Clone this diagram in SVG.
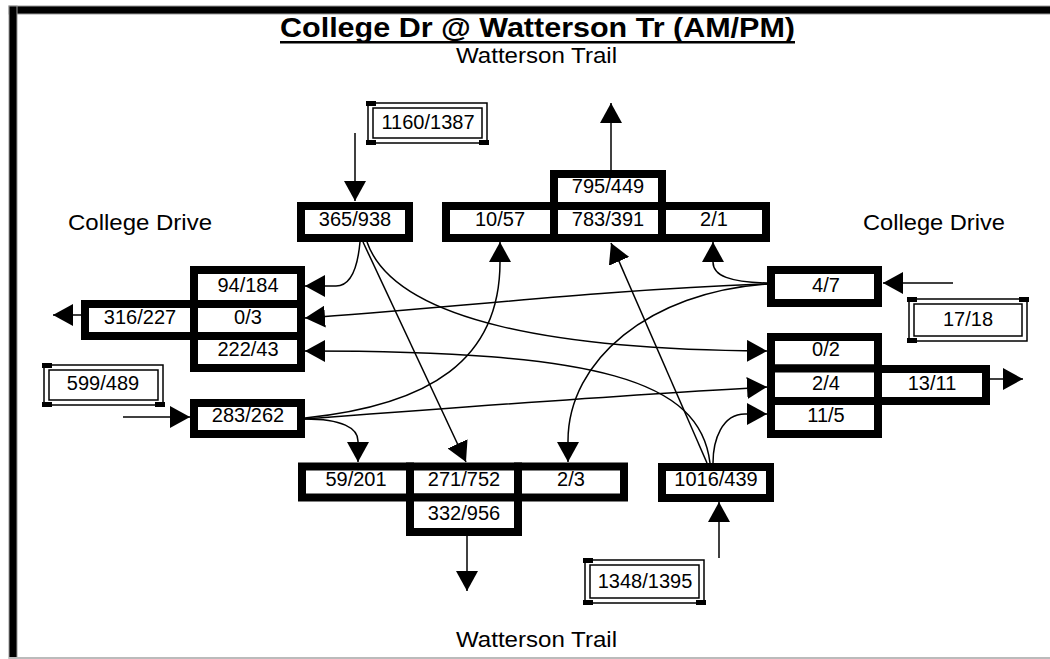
<svg xmlns="http://www.w3.org/2000/svg" width="1050" height="659" viewBox="0 0 1050 659">
  <style>
    text { font-family: "Liberation Sans", Arial, sans-serif; fill: #000; }
    .num { font-size: 20px; text-anchor: middle; }
    .lbl { font-size: 22px; text-anchor: middle; }
    .cell { fill: #fff; stroke: #000; stroke-width: 8; }
    .thin { fill: #fff; stroke: #000; stroke-width: 1.5; }
    .thin2 { fill: none; stroke: #000; stroke-width: 1.5; }
    .corner { fill: #000; }
    .wire { fill: none; stroke: #000; stroke-width: 1.5; marker-end: url(#ah); }
  </style>
  <defs>
    <marker id="ah" viewBox="0 0 20 22" refX="20" refY="11" markerWidth="20" markerHeight="22" markerUnits="userSpaceOnUse" orient="auto">
      <path d="M0,0 L20,11 L0,22 z" fill="#000"/>
    </marker>
  </defs>

  <rect width="1050" height="659" fill="#fff"/>

  <!-- page frame -->
  <g id="frame">
    <rect x="9" y="6" width="1045" height="8" fill="#000" stroke="#999" stroke-width="1"/>
    <rect x="9" y="6" width="8" height="660" fill="#000" stroke="#999" stroke-width="1"/>
    <line x1="9" y1="658" x2="1050" y2="658" stroke="#bbb" stroke-width="2"/>
  </g>

  <!-- headings -->
  <g id="title">
    <text x="537.5" y="37" font-size="27" font-weight="bold" text-anchor="middle" textLength="515" lengthAdjust="spacingAndGlyphs">College Dr @ Watterson Tr (AM/PM)</text>
    <rect x="280" y="41" width="515" height="2.5" fill="#000"/>
  </g>
  <text class="lbl" x="536.5" y="63" textLength="161" lengthAdjust="spacingAndGlyphs">Watterson Trail</text>
  <text class="lbl" x="536.5" y="647" textLength="161" lengthAdjust="spacingAndGlyphs">Watterson Trail</text>
  <text class="lbl" x="140" y="230" textLength="144" lengthAdjust="spacingAndGlyphs">College Drive</text>
  <text class="lbl" x="934" y="230" textLength="142" lengthAdjust="spacingAndGlyphs">College Drive</text>

  <!-- connectors -->
  <g id="connectors">
    <!-- approach / departure legs -->
    <path class="wire" d="M355 133 L355 201"/>
    <path class="wire" d="M611 170 L611 103"/>
    <path class="wire" d="M81 315 L53 315"/>
    <path class="wire" d="M123 417 L190 417"/>
    <path class="wire" d="M990 379 L1023 379"/>
    <path class="wire" d="M953 283 L883 283"/>
    <path class="wire" d="M467 536 L467 591"/>
    <path class="wire" d="M719 558 L719 502"/>

    <!-- southbound movements -->
    <path class="wire" d="M360 242 C 358 264, 352 286, 336 286 L305 286"/>
    <path class="wire" d="M363 242 L466 462"/>
    <path class="wire" d="M367 242 C 395 322, 560 350, 767 351"/>

    <!-- westbound movements -->
    <path class="wire" d="M767 283 C 730 282, 713 276, 713 262 L713 242"/>
    <path class="wire" d="M767 284 C 600 290, 450 308, 305 318"/>
    <path class="wire" d="M767 284 C 650 292, 568 360, 568 441 L568 462"/>

    <!-- eastbound movements -->
    <path class="wire" d="M305 418 C 430 405, 500 360, 500 262 L500 242"/>
    <path class="wire" d="M305 419 C 450 408, 620 395, 767 387"/>
    <path class="wire" d="M305 419 C 342 419, 358 428, 358 441 L358 462"/>

    <!-- northbound movements -->
    <path class="wire" d="M707 463 L611 243"/>
    <path class="wire" d="M710 463 C 700 380, 600 351, 305 351"/>
    <path class="wire" d="M713 463 C 713 440, 722 414, 745 414 L767 414"/>
  </g>

  <!-- north leg -->
  <g id="sb-approach">
    <rect class="thin" x="368" y="103" width="119" height="40"/>
    <rect class="thin2" x="373" y="108" width="109" height="30"/>
    <rect class="corner" x="366" y="101" width="10" height="5"/>
    <rect class="corner" x="366" y="140" width="10" height="5"/>
    <rect class="corner" x="479" y="140" width="10" height="5"/>
    <text class="num" x="428" y="129">1160/1387</text>
  </g>
  <g id="sb-in">
    <rect class="cell" x="301" y="206" width="108" height="32"/>
    <text class="num" x="355" y="226">365/938</text>
  </g>
  <g id="nb-out">
    <rect class="cell" x="554" y="174" width="108" height="32"/>
    <rect class="cell" x="446" y="206" width="108" height="32"/>
    <rect class="cell" x="554" y="206" width="108" height="32"/>
    <rect class="cell" x="662" y="206" width="104" height="32"/>
    <text class="num" x="608" y="193">795/449</text>
    <text class="num" x="500" y="226">10/57</text>
    <text class="num" x="608" y="226">783/391</text>
    <text class="num" x="714" y="226">2/1</text>
  </g>

  <!-- west leg -->
  <g id="wb-out">
    <rect class="cell" x="85" y="304" width="109" height="32"/>
    <rect class="cell" x="194" y="270" width="107" height="34"/>
    <rect class="cell" x="194" y="304" width="107" height="32"/>
    <rect class="cell" x="194" y="336" width="107" height="32"/>
    <text class="num" x="140" y="324">316/227</text>
    <text class="num" x="248" y="292">94/184</text>
    <text class="num" x="248" y="324">0/3</text>
    <text class="num" x="248" y="356">222/43</text>
  </g>
  <g id="eb-approach">
    <rect class="thin" x="44" y="365" width="119" height="40"/>
    <rect class="thin2" x="49" y="370" width="109" height="30"/>
    <rect class="corner" x="42" y="363" width="10" height="5"/>
    <rect class="corner" x="42" y="402" width="10" height="5"/>
    <rect class="corner" x="155" y="402" width="10" height="5"/>
    <text class="num" x="103" y="390">599/489</text>
  </g>
  <g id="eb-in">
    <rect class="cell" x="194" y="403" width="107" height="31"/>
    <text class="num" x="248" y="422">283/262</text>
  </g>

  <!-- east leg -->
  <g id="wb-in">
    <rect class="cell" x="771" y="270" width="107" height="33"/>
    <text class="num" x="826" y="292">4/7</text>
  </g>
  <g id="wb-approach">
    <rect class="thin" x="909" y="299" width="118" height="42"/>
    <rect class="thin2" x="914" y="304" width="108" height="32"/>
    <rect class="corner" x="907" y="297" width="10" height="5"/>
    <rect class="corner" x="1019" y="297" width="10" height="5"/>
    <rect class="corner" x="907" y="338" width="10" height="5"/>
    <text class="num" x="968" y="326">17/18</text>
  </g>
  <g id="eb-out">
    <rect class="cell" x="771" y="337" width="107" height="31.5"/>
    <rect class="cell" x="771" y="368.5" width="107" height="32.5"/>
    <rect class="cell" x="771" y="401" width="107" height="33"/>
    <rect class="cell" x="878" y="369" width="108" height="32"/>
    <text class="num" x="826" y="356">0/2</text>
    <text class="num" x="826" y="390">2/4</text>
    <text class="num" x="826" y="422">11/5</text>
    <text class="num" x="932" y="390">13/11</text>
  </g>

  <!-- south leg -->
  <g id="sb-out">
    <rect class="cell" x="302" y="466.5" width="108" height="31"/>
    <rect class="cell" x="410" y="466.5" width="108" height="31"/>
    <rect class="cell" x="518" y="466.5" width="106" height="31"/>
    <rect class="cell" x="410" y="497.5" width="108" height="34.5"/>
    <text class="num" x="356" y="486">59/201</text>
    <text class="num" x="464" y="486">271/752</text>
    <text class="num" x="571" y="486">2/3</text>
    <text class="num" x="464" y="520">332/956</text>
  </g>
  <g id="nb-in">
    <rect class="cell" x="662" y="467" width="108" height="31"/>
    <text class="num" x="716" y="486">1016/439</text>
  </g>
  <g id="nb-approach">
    <rect class="thin" x="585" y="560" width="119" height="43"/>
    <rect class="thin2" x="590" y="565" width="109" height="33"/>
    <rect class="corner" x="583" y="558" width="10" height="5"/>
    <rect class="corner" x="583" y="600" width="10" height="5"/>
    <rect class="corner" x="696" y="600" width="10" height="5"/>
    <text class="num" x="645" y="588">1348/1395</text>
  </g>
</svg>
